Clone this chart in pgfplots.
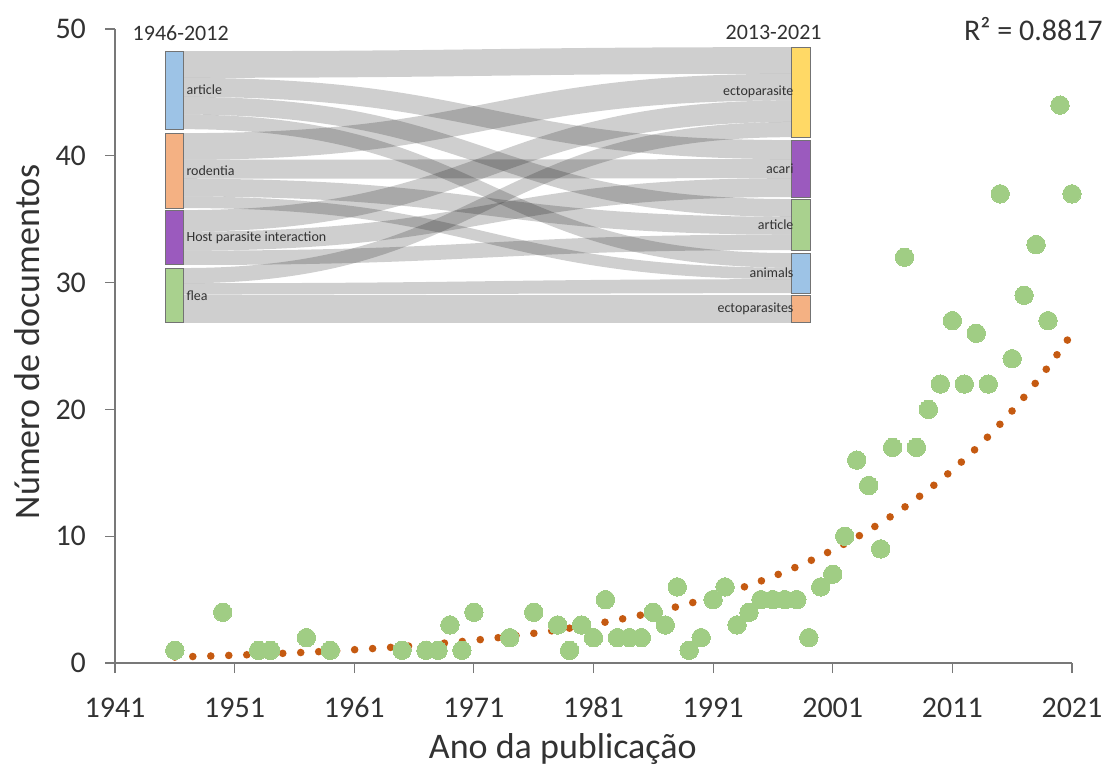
\documentclass[border=0pt]{standalone}
\usepackage{fontspec}
\setmainfont{Carlito}
\usepackage{pgfplots}
\pgfplotsset{compat=1.18}
\definecolor{dotgreen}{RGB}{160,205,132}
\definecolor{trend}{RGB}{197,90,17}
\definecolor{nblue}{RGB}{157,195,230}
\definecolor{norange}{RGB}{244,177,131}
\definecolor{npurple}{RGB}{155,90,190}
\definecolor{ngreen}{RGB}{169,209,142}
\definecolor{nyellow}{RGB}{255,217,102}
\definecolor{txt}{RGB}{50,50,50}
\definecolor{axisgray}{RGB}{120,120,120}

% Sankey flow: left top, left bottom, right top, right bottom (axis units)
\newcommand{\flow}[4]{\fill[black,fill opacity=0.19] (axis cs:1946.74,#1) .. controls (axis cs:1972.15,#1) and (axis cs:1972.15,#3) .. (axis cs:1997.56,#3) -- (axis cs:1997.56,#4) .. controls (axis cs:1972.15,#4) and (axis cs:1972.15,#2) .. (axis cs:1946.74,#2) -- cycle;}
\newcommand{\lnode}[3]{\filldraw[fill=#1,draw=black!55,line width=0.5pt] (axis cs:1945.23,#2) rectangle (axis cs:1946.74,#3);}
\newcommand{\rnode}[3]{\filldraw[fill=#1,draw=black!55,line width=0.5pt] (axis cs:1997.56,#2) rectangle (axis cs:1999.15,#3);}

\pgfplotstableread{
year docs
1946 1
1950 4
1953 1
1954 1
1957 2
1959 1
1965 1
1967 1
1968 1
1969 3
1970 1
1971 4
1974 2
1976 4
1978 3
1979 1
1980 3
1981 2
1982 5
1983 2
1984 2
1985 2
1986 4
1987 3
1988 6
1989 1
1990 2
1991 5
1992 6
1993 3
1994 4
1995 5
1996 5
1997 5
1998 5
1999 2
2000 6
2001 7
2002 10
2003 16
2004 14
2005 9
2006 17
2007 32
2008 17
2009 20
2010 22
2011 27
2012 22
2013 26
2014 22
2015 37
2016 24
2017 29
2018 33
2019 27
2020 44
2021 37
}\docs

\pgfplotstableread{
year fit
1946 0.470
1947 0.496
1948 0.523
1949 0.552
1950 0.582
1951 0.614
1952 0.648
1953 0.683
1954 0.721
1955 0.761
1956 0.802
1957 0.847
1958 0.893
1959 0.942
1960 0.994
1961 1.049
1962 1.106
1963 1.167
1964 1.231
1965 1.299
1966 1.370
1967 1.445
1968 1.525
1969 1.609
1970 1.697
1971 1.790
1972 1.889
1973 1.993
1974 2.102
1975 2.218
1976 2.340
1977 2.468
1978 2.604
1979 2.747
1980 2.898
1981 3.057
1982 3.225
1983 3.403
1984 3.590
1985 3.787
1986 3.995
1987 4.215
1988 4.446
1989 4.691
1990 4.949
1991 5.221
1992 5.507
1993 5.810
1994 6.129
1995 6.466
1996 6.821
1997 7.196
1998 7.592
1999 8.009
2000 8.449
2001 8.913
2002 9.403
2003 9.920
2004 10.465
2005 11.040
2006 11.647
2007 12.287
2008 12.962
2009 13.675
2010 14.426
2011 15.219
2012 16.055
2013 16.938
2014 17.869
2015 18.851
2016 19.887
2017 20.980
2018 22.133
2019 23.350
2020 24.633
2021 25.987
}\trendtab

\begin{document}
\begin{tikzpicture}
\useasboundingbox (-57.5pt,-52.5pt) rectangle (497.5pt,331.5pt);
\begin{axis}[
  at={(0,0)}, anchor=south west,
  scale only axis, width=478.5pt, height=317pt,
  xmin=1941, xmax=2021, ymin=0, ymax=50,
  xtick={1941,1951,...,2021}, ytick={0,10,...,50},
  axis x line*=bottom, axis y line*=left,
  axis line style={axisgray, line width=0.6pt},
  tick style={axisgray, line width=0.6pt},
  tick align=outside, major tick length=5pt,
  /pgf/number format/assume math mode=true,
  /pgf/number format/1000 sep={},
  ticklabel style={font=\fontsize{15}{18}\selectfont, text=txt},
  xticklabel style={anchor=base, yshift=-22pt},
  yticklabel style={anchor=east, xshift=-6pt},
  xlabel={Ano da publicação}, ylabel={Número de documentos},
  every axis x label/.style={at={(axis description cs:0.468,0)}, anchor=base, yshift=-47.5pt, font=\fontsize{18}{21}\selectfont, text=txt},
  every axis y label/.style={at={(axis description cs:-0.092,0.507)}, rotate=90, anchor=center, font=\fontsize{18}{21}\selectfont, text=txt},
  clip=false,
]
% Sankey inset
\flow{48.25}{46.15}{48.57}{46.47}
\flow{46.15}{44.65}{41.24}{39.74}
\flow{44.65}{43.25}{36.59}{35.19}
\flow{43.25}{42.10}{32.33}{31.18}
\flow{41.79}{39.69}{46.47}{44.37}
\flow{39.69}{38.19}{39.74}{38.24}
\flow{38.19}{36.79}{35.19}{33.79}
\flow{36.79}{35.88}{31.18}{30.27}
\flow{35.72}{34.02}{44.37}{42.67}
\flow{34.02}{32.52}{38.24}{36.75}
\flow{32.52}{31.39}{33.79}{32.57}
\flow{31.15}{29.95}{42.67}{41.47}
\flow{29.95}{29.05}{30.27}{29.18}
\flow{29.02}{26.82}{29.02}{26.82}
\lnode{nblue}{48.25}{42.10}
\lnode{norange}{41.79}{35.88}
\lnode{npurple}{35.72}{31.39}
\lnode{ngreen}{31.15}{26.82}
\rnode{nyellow}{48.57}{41.47}
\rnode{npurple}{41.24}{36.75}
\rnode{ngreen}{36.59}{32.57}
\rnode{nblue}{32.33}{29.18}
\rnode{norange}{29.02}{26.82}
\begin{scope}[every node/.style={font=\fontsize{7}{8}\selectfont, text=txt, inner sep=0pt}]
\node[anchor=west] at (axis cs:1946.95,45.18) {article};
\node[anchor=west] at (axis cs:1946.95,38.84) {rodentia};
\node[anchor=west] at (axis cs:1946.95,33.56) {Host parasite interaction};
\node[anchor=west] at (axis cs:1946.95,28.99) {flea};
\node[anchor=east] at (axis cs:1997.75,45.02) {ectoparasite};
\node[anchor=east] at (axis cs:1997.75,39.00) {acari};
\node[anchor=east] at (axis cs:1997.75,34.58) {article};
\node[anchor=east] at (axis cs:1997.75,30.76) {animals};
\node[anchor=east] at (axis cs:1997.75,27.92) {ectoparasites};
\end{scope}
\node[anchor=west, inner sep=0pt, font=\fontsize{11}{13}\selectfont, text=txt] at (axis cs:1942.45,49.7) {1946-2012};
\node[anchor=east, inner sep=0pt, font=\fontsize{11}{13}\selectfont, text=txt] at (axis cs:2000.1,49.7) {2013-2021};
% data
\addplot[dotgreen, only marks, mark=*, mark size=4.6pt, mark options={draw=dotgreen, fill=dotgreen, line width=0pt}] table[x=year,y=docs] {\docs};
\addplot[trend, line width=3.8pt, line cap=round, dash pattern=on 0pt off 9pt, no marks] table[x=year,y=fit] {\trendtab};
\node[anchor=east, inner sep=0pt, font=\fontsize{15}{18}\selectfont, text=txt] at (axis cs:2023.6,50.0) {R² = 0.8817};
\end{axis}
\end{tikzpicture}
\end{document}
